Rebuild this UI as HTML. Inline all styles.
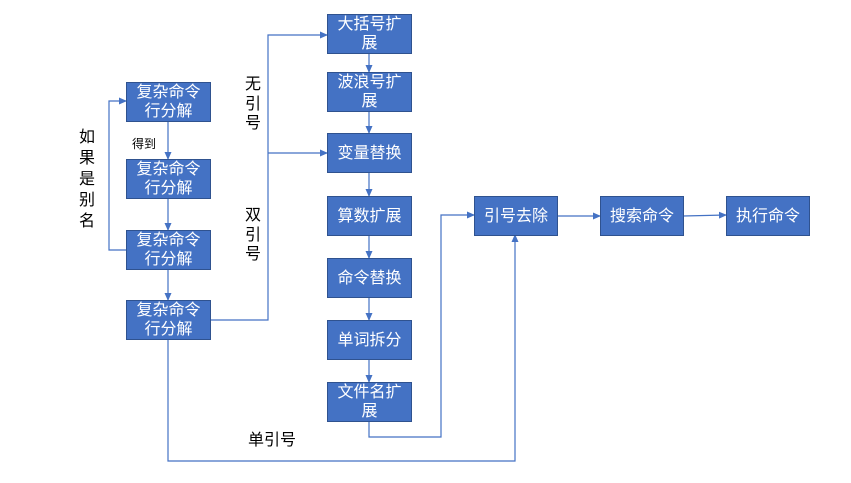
<!DOCTYPE html>
<html><head><meta charset="utf-8"><style>
body{margin:0;background:#fff;width:851px;height:483px;overflow:hidden;font-family:"Liberation Sans","Noto Sans CJK SC",sans-serif}
.b{position:absolute;background:#4472c4;border:1px solid #2f528f;box-sizing:border-box;color:#fff;font-size:16px;line-height:19px;display:flex;align-items:center;justify-content:center;text-align:center}
.t{position:absolute;font-size:16px;color:#000;line-height:20px}
</style></head><body>
<svg width="851" height="483" style="position:absolute;left:0;top:0">
<defs><marker id="a" markerWidth="8" markerHeight="8" refX="7" refY="4" orient="auto" markerUnits="userSpaceOnUse"><path d="M0,0.5 L8,4 L0,7.5z" fill="#4472c4"/></marker></defs>
<g stroke="#4472c4" stroke-width="1.2" fill="none">
<path d="M168 121V159" marker-end="url(#a)"/>
<path d="M168 198V230" marker-end="url(#a)"/>
<path d="M168 269V300" marker-end="url(#a)"/>
<path d="M126 250H109V101H126" marker-end="url(#a)"/>
<path d="M210 320H268V35H327" marker-end="url(#a)"/>
<path d="M268 153H327" marker-end="url(#a)"/>
<path d="M369 53V72" marker-end="url(#a)"/>
<path d="M369 111V133" marker-end="url(#a)"/>
<path d="M369 172V196" marker-end="url(#a)"/>
<path d="M369 235V258" marker-end="url(#a)"/>
<path d="M369 297V320" marker-end="url(#a)"/>
<path d="M369 359V382" marker-end="url(#a)"/>
<path d="M369 421V437H441V215H474" marker-end="url(#a)"/>
<path d="M168 339V461H515V235" marker-end="url(#a)"/>
<path d="M557 216H600" marker-end="url(#a)"/>
<path d="M683 216L726 215" marker-end="url(#a)"/>
</g></svg>
<div class="b" style="left:126px;top:82px;width:85px;height:40px">复杂命令<br>行分解</div>
<div class="b" style="left:126px;top:159px;width:85px;height:40px">复杂命令<br>行分解</div>
<div class="b" style="left:126px;top:230px;width:85px;height:40px">复杂命令<br>行分解</div>
<div class="b" style="left:126px;top:300px;width:85px;height:40px">复杂命令<br>行分解</div>
<div class="b" style="left:327px;top:14px;width:85px;height:40px">大括号扩<br>展</div>
<div class="b" style="left:327px;top:72px;width:85px;height:40px">波浪号扩<br>展</div>
<div class="b" style="left:327px;top:133px;width:85px;height:40px">变量替换</div>
<div class="b" style="left:327px;top:196px;width:85px;height:40px">算数扩展</div>
<div class="b" style="left:327px;top:258px;width:85px;height:40px">命令替换</div>
<div class="b" style="left:327px;top:320px;width:85px;height:40px">单词拆分</div>
<div class="b" style="left:327px;top:382px;width:85px;height:40px">文件名扩<br>展</div>
<div class="b" style="left:474px;top:196px;width:84px;height:40px">引号去除</div>
<div class="b" style="left:600px;top:196px;width:84px;height:40px">搜索命令</div>
<div class="b" style="left:726px;top:196px;width:84px;height:40px">执行命令</div>
<div class="t" style="left:79px;top:127px;width:17px;line-height:21px">如果是别名</div>
<div class="t" style="left:132px;top:134px;font-size:12px">得到</div>
<div class="t" style="left:245px;top:75px;width:17px;line-height:19.5px">无引号</div>
<div class="t" style="left:245px;top:206px;width:17px;line-height:19.5px">双引号</div>
<div class="t" style="left:248px;top:431px">单引号</div>
</body></html>
